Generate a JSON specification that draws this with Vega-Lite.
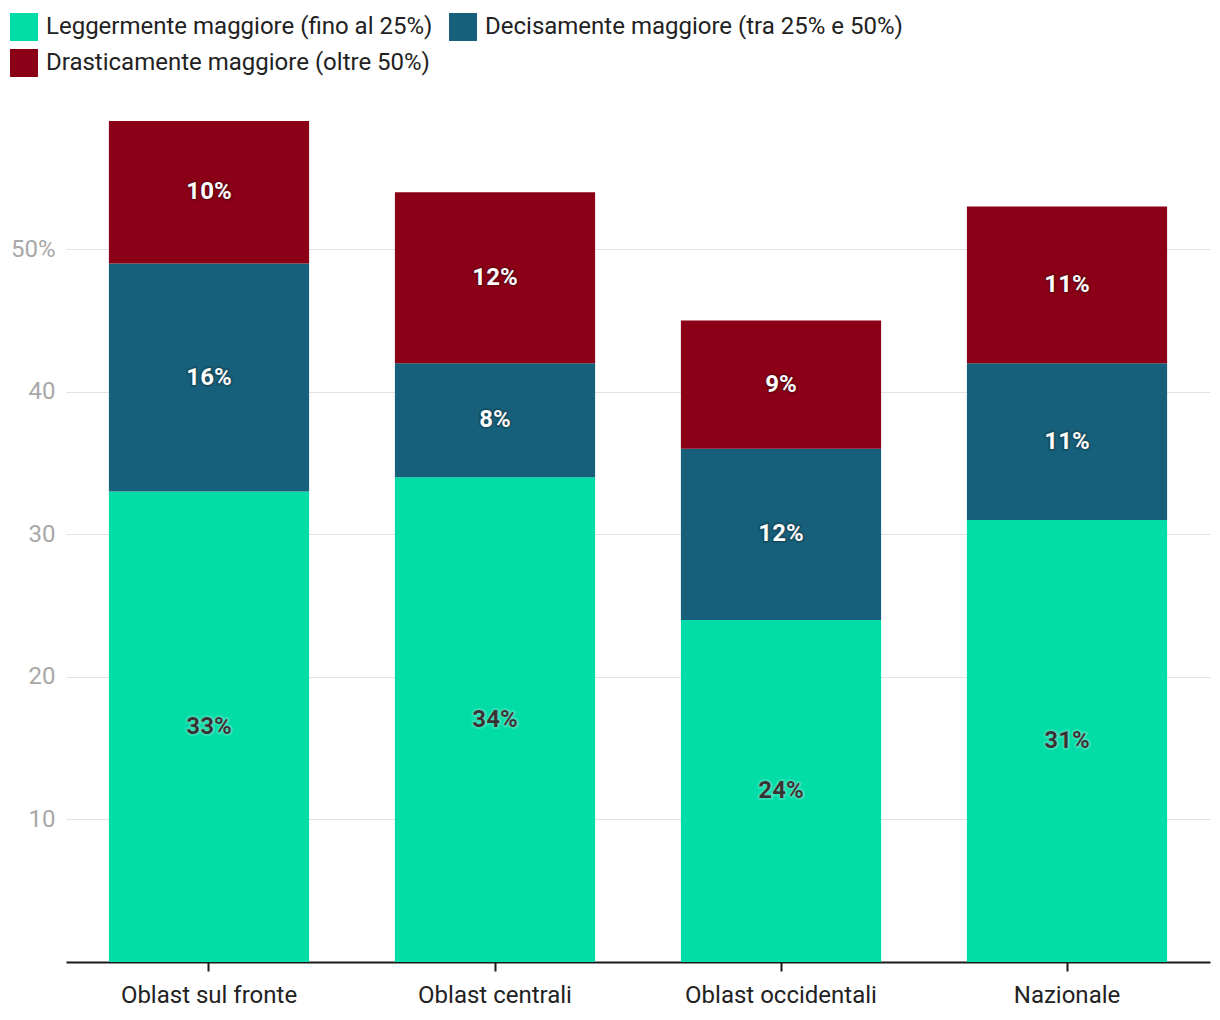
{
  "$schema": "https://vega.github.io/schema/vega-lite/v6.json",
  "width": 1144,
  "height": 841,
  "autosize": {"type": "none"},
  "padding": {"left": 66, "top": 121, "right": 10, "bottom": 58},
  "config": {"font": "Roboto", "view": {"stroke": null}},
  "data": {
    "values": [
      {"regione": "Oblast sul fronte", "categoria": "Leggermente maggiore (fino al 25%)", "ordine": 1, "valore": 33},
      {"regione": "Oblast sul fronte", "categoria": "Decisamente maggiore (tra 25% e 50%)", "ordine": 2, "valore": 16},
      {"regione": "Oblast sul fronte", "categoria": "Drasticamente maggiore (oltre 50%)", "ordine": 3, "valore": 10},
      {"regione": "Oblast centrali", "categoria": "Leggermente maggiore (fino al 25%)", "ordine": 1, "valore": 34},
      {"regione": "Oblast centrali", "categoria": "Decisamente maggiore (tra 25% e 50%)", "ordine": 2, "valore": 8},
      {"regione": "Oblast centrali", "categoria": "Drasticamente maggiore (oltre 50%)", "ordine": 3, "valore": 12},
      {"regione": "Oblast occidentali", "categoria": "Leggermente maggiore (fino al 25%)", "ordine": 1, "valore": 24},
      {"regione": "Oblast occidentali", "categoria": "Decisamente maggiore (tra 25% e 50%)", "ordine": 2, "valore": 12},
      {"regione": "Oblast occidentali", "categoria": "Drasticamente maggiore (oltre 50%)", "ordine": 3, "valore": 9},
      {"regione": "Nazionale", "categoria": "Leggermente maggiore (fino al 25%)", "ordine": 1, "valore": 31},
      {"regione": "Nazionale", "categoria": "Decisamente maggiore (tra 25% e 50%)", "ordine": 2, "valore": 11},
      {"regione": "Nazionale", "categoria": "Drasticamente maggiore (oltre 50%)", "ordine": 3, "valore": 11}
    ]
  },
  "transform": [
    {"stack": "valore", "groupby": ["regione"], "sort": [{"field": "ordine", "order": "ascending"}], "as": ["v0", "v1"]},
    {"calculate": "(datum.v0 + datum.v1) / 2", "as": "mid"},
    {"calculate": "datum.valore + '%'", "as": "etichetta"}
  ],
  "encoding": {
    "x": {
      "field": "regione",
      "type": "nominal",
      "sort": ["Oblast sul fronte", "Oblast centrali", "Oblast occidentali", "Nazionale"],
      "scale": {"paddingInner": 0.3, "paddingOuter": 0.15},
      "axis": {
        "title": null,
        "labelAngle": 0,
        "labelFontSize": 24,
        "labelLimit": 400,
        "labelColor": "#222222",
        "labelPadding": 12,
        "domainColor": "#1a1a1a",
        "domainWidth": 2,
        "tickColor": "#1a1a1a",
        "tickWidth": 2,
        "tickSize": 9,
        "grid": false
      }
    }
  },
  "layer": [
    {
      "mark": {"type": "bar"},
      "encoding": {
        "y": {
          "field": "v1",
          "type": "quantitative",
          "scale": {"domain": [0, 59], "nice": false, "zero": true},
          "axis": {
            "title": null,
            "values": [10, 20, 30, 40, 50],
            "labelExpr": "datum.value == 50 ? '50%' : datum.label",
            "labelFontSize": 24,
            "labelColor": "#a8a8a8",
            "labelPadding": 11,
            "domain": false,
            "ticks": false,
            "grid": true,
            "gridColor": "#e2e2e2",
            "gridWidth": 1
          }
        },
        "y2": {"field": "v0"},
        "color": {
          "field": "categoria",
          "type": "nominal",
          "scale": {
            "domain": ["Leggermente maggiore (fino al 25%)", "Decisamente maggiore (tra 25% e 50%)", "Drasticamente maggiore (oltre 50%)"],
            "range": ["#02dca7", "#17607b", "#8c0017"]
          },
          "legend": {
            "title": null,
            "orient": "none",
            "legendX": -56,
            "legendY": -108,
            "columns": 2,
            "direction": "horizontal",
            "columnPadding": 16,
            "rowPadding": 8,
            "symbolType": "square",
            "symbolSize": 784,
            "symbolStrokeWidth": 0,
            "symbolOpacity": 1,
            "labelFontSize": 24,
            "labelColor": "#222222",
            "labelOffset": 8,
            "labelLimit": 600,
            "padding": 0
          }
        }
      }
    },
    {
      "mark": {"type": "text", "fontSize": 24, "fontWeight": "bold", "strokeWidth": 4, "strokeOpacity": 0.18, "strokeJoin": "round"},
      "encoding": {
        "y": {"field": "mid", "type": "quantitative"},
        "text": {"field": "etichetta"},
        "stroke": {"condition": {"test": "datum.ordine == 1", "value": "#ffffff"}, "value": "#000000"},
        "color": {"condition": {"test": "datum.ordine == 1", "value": "#ffffff"}, "value": "#000000"}
      }
    },
    {
      "mark": {"type": "text", "fontSize": 24, "fontWeight": "bold"},
      "encoding": {
        "y": {"field": "mid", "type": "quantitative"},
        "text": {"field": "etichetta"},
        "color": {"condition": {"test": "datum.ordine == 1", "value": "#333333"}, "value": "#ffffff"}
      }
    }
  ]
}
